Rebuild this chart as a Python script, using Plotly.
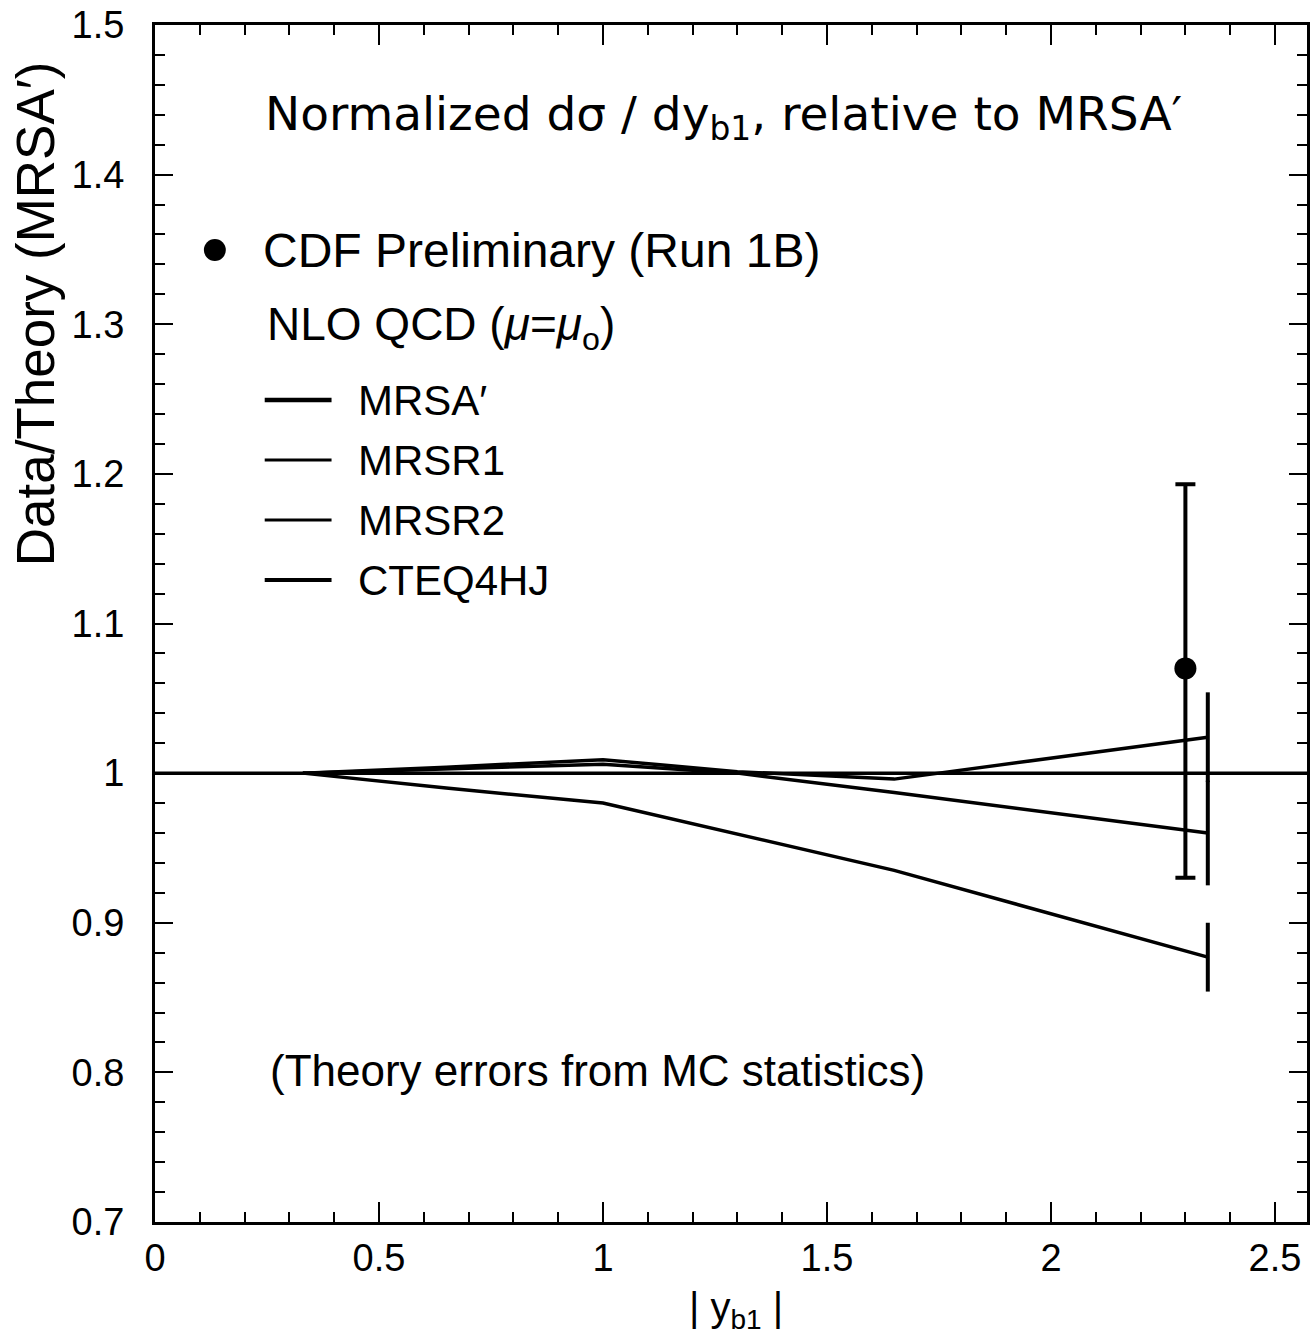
import plotly.graph_objects as go

# ---------------- data ----------------
x_theory = [0.33, 0.65, 1.0, 1.3, 1.65, 2.35]
mrsa_ratio = 1.0                      # MRSA' relative to itself
mrsr1 = [1.000, 1.003, 1.006, 1.000, 0.987, 0.960]
mrsr2 = [1.000, 0.990, 0.980, 0.959, 0.935, 0.877]
cteq4hj = [1.000, 1.004, 1.009, 1.001, 0.996, 1.024]
# theory (MC statistics) errors at the last bin
mrsr1_err = 0.035
mrsr2_err = 0.023
cteq4hj_err = 0.030

data_x = [2.30]
data_y = [1.07]
data_err_plus = [0.123]
data_err_minus = [0.140]

x_tickvals = [0, 0.5, 1, 1.5, 2, 2.5]
x_ticktext = ["0", "0.5", "1", "1.5", "2", "2.5"]
y_tickvals = [0.7, 0.8, 0.9, 1.0, 1.1, 1.2, 1.3, 1.4, 1.5]
y_ticktext = ["0.7", "0.8", "0.9", "1", "1.1", "1.2", "1.3", "1.4", "1.5"]

# ---------------- layout geometry ----------------
W, H = 1310, 1337
L, R, T, B = 155, 0, 25, 115
PW, PH = W - L - R, H - T - B
XMAX = 1152 / 448.0

FONT = "Liberation Sans, Arial, sans-serif"
TFONT = "DejaVu Sans, sans-serif"
BLACK = "#000000"


def px(x):
    return (x - L) / PW


def py(y):
    return (H - B - y) / PH


fig = go.Figure()

for yv in (mrsr1, mrsr2, cteq4hj):
    fig.add_trace(go.Scatter(x=x_theory, y=yv, mode="lines",
                             line=dict(color=BLACK, width=3.5),
                             showlegend=False, hoverinfo="skip"))

# theory error bars at last bin
for yv, e in ((mrsr1, mrsr1_err), (mrsr2, mrsr2_err), (cteq4hj, cteq4hj_err)):
    fig.add_trace(go.Scatter(x=[x_theory[-1]], y=[yv[-1]], mode="markers",
                             marker=dict(size=1, color="rgba(0,0,0,0)"),
                             error_y=dict(type="data", array=[e], arrayminus=[e],
                                          color=BLACK, thickness=4, width=0),
                             showlegend=False, hoverinfo="skip"))

# CDF data
fig.add_trace(go.Scatter(x=data_x, y=data_y, mode="markers",
                         marker=dict(size=22, color=BLACK),
                         error_y=dict(type="data", array=data_err_plus,
                                      arrayminus=data_err_minus,
                                      color=BLACK, thickness=4, width=10),
                         showlegend=False, hoverinfo="skip"))

shapes = [dict(type="line", xref="paper", yref="y", x0=0, x1=1,
               y0=mrsa_ratio, y1=mrsa_ratio, line=dict(color=BLACK, width=3.5))]

ann = []


def text(x, y, s, size, anchor="left", family=FONT, **kw):
    ann.append(dict(xref="paper", yref="paper", x=px(x), y=py(y), text=s,
                    showarrow=False, xanchor=anchor, yanchor="middle",
                    font=dict(family=family, size=size, color=BLACK), **kw))


text(263, 117, "Normalized dσ / dy<sub>b1</sub>, relative to MRSA′", 47, family=TFONT)
text(261, 250, "CDF Preliminary (Run 1B)", 48)
text(265, 327, "NLO QCD (<i>μ</i>=<i>μ</i><sub>o</sub>)", 46)
names = ["MRSA′", "MRSR1", "MRSR2", "CTEQ4HJ"]
rows = [400, 460, 520, 580]
widths = [4.5, 3, 3, 4]
for nm, yy, lw in zip(names, rows, widths):
    text(357, yy, nm, 42)
    shapes.append(dict(type="line", xref="paper", yref="paper",
                       x0=px(265), x1=px(332), y0=py(yy), y1=py(yy),
                       line=dict(color=BLACK, width=lw)))
shapes.append(dict(type="circle", xref="paper", yref="paper",
                   x0=px(204), x1=px(226), y0=py(239), y1=py(261),
                   fillcolor=BLACK, line=dict(color=BLACK, width=0)))
text(268, 1070, "(Theory errors from MC statistics)", 44)

# y-axis title (rotated)
ann.append(dict(xref="paper", yref="paper", x=px(35), y=py(314),
                text="Data/Theory (MRSA′)", textangle=-90, showarrow=False,
                xanchor="center", yanchor="middle",
                font=dict(family=FONT, size=53, color=BLACK)))
# x-axis title
ann.append(dict(xref="paper", yref="paper", x=px(738), y=py(1337),
                text="| y<sub>b1</sub> |", showarrow=False,
                xanchor="center", yanchor="bottom",
                font=dict(family=FONT, size=40, color=BLACK)))

axis_common = dict(showline=True, linewidth=3, linecolor=BLACK, mirror="allticks",
                   ticks="inside", tickcolor=BLACK, tickwidth=2,
                   showgrid=False, zeroline=False,
                   tickfont=dict(family=FONT, size=38, color=BLACK))

fig.update_layout(
    width=W, height=H,
    margin=dict(l=L, r=R, t=T, b=B, pad=0),
    paper_bgcolor="white", plot_bgcolor="white",
    shapes=shapes, annotations=ann,
    xaxis=dict(range=[0, XMAX], tickvals=x_tickvals, ticktext=x_ticktext,
               ticklen=20,
               minor=dict(dtick=0.1, tick0=0, ticks="inside", ticklen=10,
                          tickwidth=2, tickcolor=BLACK, showgrid=False),
               **axis_common),
    yaxis=dict(range=[0.7, 1.5], tickvals=y_tickvals, ticktext=y_ticktext,
               ticklen=18, ticklabelstandoff=20,
               minor=dict(dtick=0.02, tick0=0.7, ticks="inside", ticklen=10,
                          tickwidth=2, tickcolor=BLACK, showgrid=False),
               **axis_common),
)

fig.write_html("out.html", config=dict(displayModeBar=False),
               post_script="document.body.style.margin='0';document.body.style.overflow='hidden';")
